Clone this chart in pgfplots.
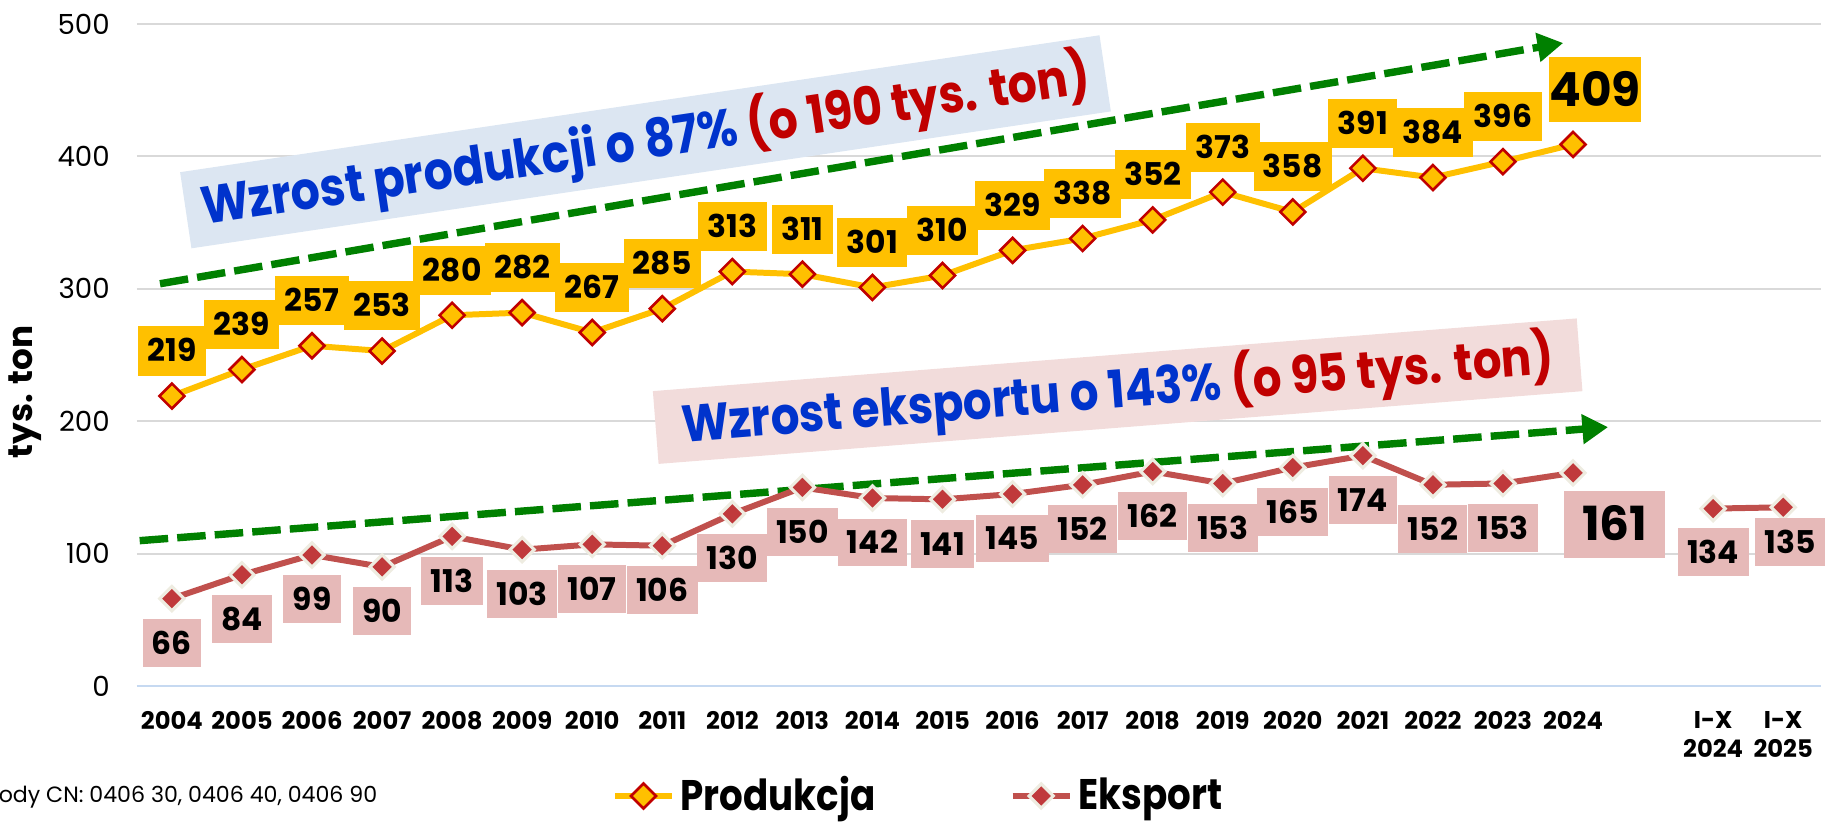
\documentclass[border=0pt]{standalone}
\usepackage{fontspec}
\setmainfont{Poppins}
\newfontfamily\condfont[FakeStretch=0.87]{Poppins}
\usepackage{pgfplots}
\pgfplotsset{compat=1.18}
\usepackage{pgfplotstable}
\usetikzlibrary{arrows.meta}

\definecolor{prodY}{HTML}{FFC000}
\definecolor{darkR}{HTML}{C00000}
\definecolor{expR}{HTML}{C0504D}
\definecolor{expM}{HTML}{C0393B}
\definecolor{cream}{HTML}{EEECE1}
\definecolor{pinkLbl}{HTML}{E6B9B8}
\definecolor{blueBox}{HTML}{DCE6F2}
\definecolor{pinkBox}{HTML}{F2DCDB}
\definecolor{arrowG}{HTML}{008000}
\definecolor{txtBlue}{HTML}{0033CC}
\definecolor{gridG}{HTML}{D9D9D9}
\definecolor{baseB}{HTML}{C6D9F1}

\pgfplotstableread{
x y
0 219
1 239
2 257
3 253
4 280
5 282
6 267
7 285
8 313
9 311
10 301
11 310
12 329
13 338
14 352
15 373
16 358
17 391
18 384
19 396
20 409
}\prodtab

\pgfplotstableread{
x y
0 66
1 84
2 99
3 90
4 113
5 103
6 107
7 106
8 130
9 150
10 142
11 141
12 145
13 152
14 162
15 153
16 165
17 174
18 152
19 153
20 161
}\exptab

\pgfplotstableread{
x y
22 134
23 135
}\expIX

\pgfplotsset{
  lblsmallP/.style={point meta=explicit symbolic, nodes near coords={\fontsize{11}{11}\selectfont\bfseries\rule[-4.75pt]{0pt}{17.2pt}\pgfplotspointmeta},
    every node near coord/.append style={anchor=south, yshift=7pt, fill=prodY, inner xsep=3.3pt, inner ysep=0pt, text=black}},
  lblbigP/.style={point meta=explicit symbolic, nodes near coords={\fontsize{16.5}{16.5}\selectfont\bfseries\rule[-5.75pt]{0pt}{23.1pt}\pgfplotspointmeta},
    every node near coord/.append style={anchor=south, yshift=7.5pt, xshift=7.7pt, fill=prodY, inner xsep=0pt, inner ysep=0pt, minimum width=32.6pt, text=black}},
  lblsmallE/.style={point meta=explicit symbolic, nodes near coords={\fontsize{11}{11}\selectfont\bfseries\rule[-4.4pt]{0pt}{16.8pt}\pgfplotspointmeta},
    every node near coord/.append style={anchor=north, yshift=-7pt, fill=pinkLbl, inner xsep=3.3pt, inner ysep=0pt, text=black}},
  lblbigE/.style={point meta=explicit symbolic, nodes near coords={\fontsize{16.5}{16.5}\selectfont\bfseries\rule[-5.95pt]{0pt}{23.5pt}\pgfplotspointmeta},
    every node near coord/.append style={anchor=north, yshift=-6pt, xshift=14.7pt, fill=pinkLbl, inner xsep=0pt, inner ysep=0pt, minimum width=35.4pt, text=black}},
  prodstyle/.style={color=prodY, line width=2.1pt, mark=square*, mark size=3.1pt,
    mark options={rotate=45, fill=prodY, draw=darkR, line width=0.9pt, solid}},
  expstyle/.style={color=expR, line width=2.1pt, mark=square*, mark size=3.0pt,
    mark options={rotate=45, fill=expM, draw=cream, line width=1.1pt, solid}},
}

\begin{document}
\begin{tikzpicture}
\begin{axis}[
  name=ax, at={(0,0)}, anchor=south west,
  scale only axis, width=590.6pt, height=232.2pt,
  xmin=-0.5, xmax=23.54, ymin=0, ymax=500,
  clip=false,
  axis line style={draw=none},
  major tick length=0pt,
  ytick={0,100,200,300,400,500},
  ymajorgrids, grid style={gridG, line width=0.7pt},
  extra y ticks={0}, extra y tick labels={},
  extra y tick style={grid style={baseB, line width=0.8pt}},
  xtick={0,1,2,3,4,5,6,7,8,9,10,11,12,13,14,15,16,17,18,19,20,22,23},
  xticklabels={2004,2005,2006,2007,2008,2009,2010,2011,2012,2013,2014,2015,2016,2017,2018,2019,2020,2021,2022,2023,2024,{I-X\\2024},{I-X\\2025}},
  /pgf/number format/assume math mode=true,
  yticklabel style={font=\fontsize{9.7}{10}\selectfont, xshift=-6pt},
  xticklabel style={font=\bfseries\fontsize{8.5}{10.2}\selectfont, align=center, yshift=-5.5pt},
  legend columns=2,
  legend style={draw=none, fill=none, at={(0.465,-0.166)}, anchor=center,
    font=\condfont\bfseries\fontsize{15}{15}\selectfont, inner sep=0pt},
  legend image code/.code={\draw[mark repeat=2, mark phase=2, #1] plot coordinates {(0pt,0pt) (10pt,0pt) (20pt,0pt)};},
]

% annotation boxes
\node[fill=blueBox, rotate=8.47, minimum width=326pt, minimum height=27pt, inner sep=0pt]
  at (axis cs:6.76,411) {\condfont\bfseries\fontsize{18.5}{18.5}\selectfont\color{txtBlue}Wzrost produkcji o 87\% \textcolor{darkR}{(o 190 tys. ton)}};
\node[fill=pinkBox, rotate=4.5, minimum width=325pt, minimum height=25.6pt, inner sep=0pt]
  at (axis cs:13.5,222.7) {\condfont\bfseries\fontsize{18.2}{18.2}\selectfont\color{txtBlue}Wzrost eksportu o 143\% \textcolor{darkR}{(o 95 tys. ton)}};

% trend arrows
\draw[arrowG, line width=2.6pt, dash pattern=on 10pt off 3.2pt, -{Triangle[length=9pt,width=9.8pt]}]
  (axis cs:-0.17,303.8) -- (axis cs:19.86,485.6);
\draw[arrowG, line width=2.6pt, dash pattern=on 10pt off 3.2pt, -{Triangle[length=9pt,width=10pt]}]
  (axis cs:-0.46,109.8) -- (axis cs:20.5,195.5);

\addplot[prodstyle] table[x=x, y=y] {\prodtab};
\addlegendentry{Produkcja\hspace{45pt}\mbox{}}
\addplot[expstyle] table[x=x, y=y] {\exptab};
\addlegendentry{Eksport}
\addplot[expstyle, forget plot] table[x=x, y=y] {\expIX};

% data labels
\addplot[forget plot, draw=none, mark=none, lblsmallP, restrict x to domain=0:19] table[x=x, y=y, meta=y] {\prodtab};
\addplot[forget plot, draw=none, mark=none, lblbigP, restrict x to domain=20:20] table[x=x, y=y, meta=y] {\prodtab};
\addplot[forget plot, draw=none, mark=none, lblsmallE, restrict x to domain=0:19] table[x=x, y=y, meta=y] {\exptab};
\addplot[forget plot, draw=none, mark=none, lblbigE, restrict x to domain=20:20] table[x=x, y=y, meta=y] {\exptab};
\addplot[forget plot, draw=none, mark=none, lblsmallE, restrict x to domain=22:22,
  every node near coord/.append style={yshift=0.3pt}] table[x=x, y=y, meta=y] {\expIX};
\addplot[forget plot, draw=none, mark=none, lblsmallE, restrict x to domain=23:23,
  every node near coord/.append style={yshift=3.5pt, xshift=2.5pt}] table[x=x, y=y, meta=y] {\expIX};

\node[rotate=90, font=\bfseries\fontsize{12}{12}\selectfont] at ([xshift=-39pt]rel axis cs:0,0.444) {tys. ton};
\node[anchor=east, inner sep=0pt, font=\fontsize{7.75}{8}\selectfont] at ([xshift=84.5pt,yshift=-38.9pt]rel axis cs:0,0) {Kody CN: 0406 30, 0406 40, 0406 90};
\end{axis}
\pgfresetboundingbox
\path[use as bounding box] ([xshift=-48pt,yshift=-48.7pt]ax.south west) rectangle ([xshift=1.4pt,yshift=8.4pt]ax.north east);
\end{tikzpicture}
\end{document}
